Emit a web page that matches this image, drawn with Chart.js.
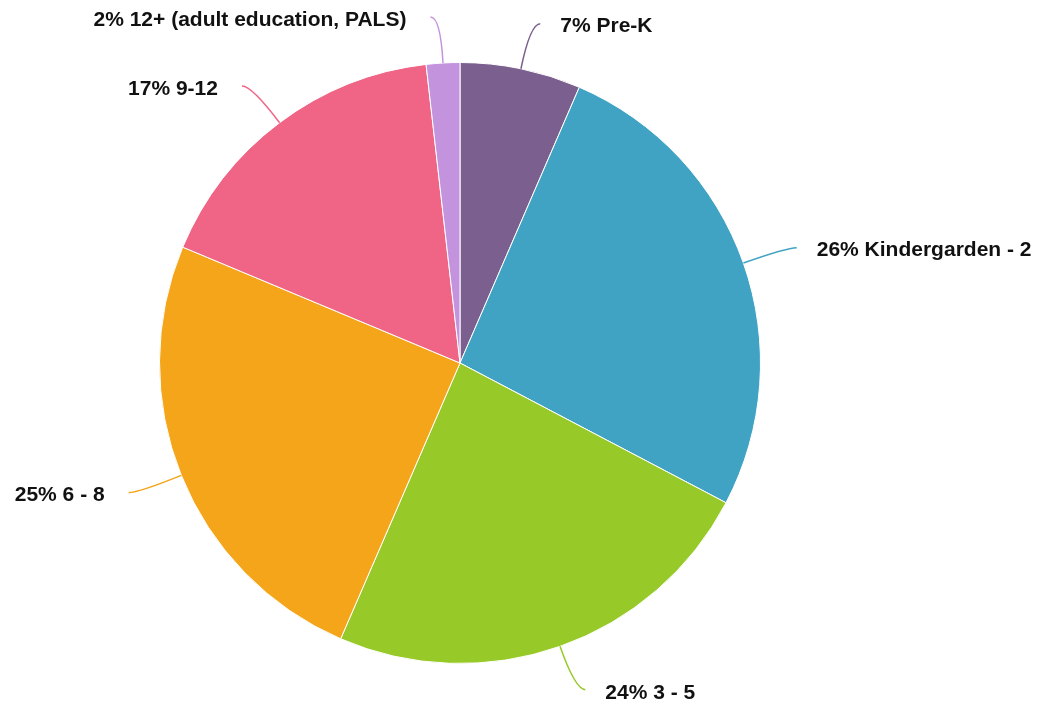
<!DOCTYPE html>
<html lang="en">
<head>
    <meta charset="UTF-8">
    <title>Grade levels</title>
    <script src="https://cdn.jsdelivr.net/npm/chart.js"></script>
    <style>
        body {
            margin: 0;
            background: white;
        }
        .wrap {
            width: 1041px;
            height: 714px;
            position: relative;
        }
    </style>
</head>
<body>
    <div class="wrap"><canvas id="pieChart"></canvas></div>

    <script>
        // data (percent of total)
        let categories = ['Pre-K', 'Kindergarden - 2', '3 - 5', '6 - 8', '9-12', '12+ (adult education, PALS)'];
        let shares = [6.5, 26.2, 23.8, 24.8, 16.9, 1.8];
        let sliceColors = ['#7b5f8e', '#40a3c3', '#97ca28', '#f5a51a', '#f06585', '#c394dd'];

        // outside labels with curved leader lines
        let leaderLabels = {
            id: 'leaderLabels',
            afterDraw(chart) {
                let ctx = chart.ctx;
                let meta = chart.getDatasetMeta(0);
                let total = shares.reduce((a, b) => a + b, 0);
                ctx.save();
                ctx.font = 'bold 21px "Liberation Sans", Arial, sans-serif';
                meta.data.forEach((arc, i) => {
                    let mid = (arc.startAngle + arc.endAngle) / 2;
                    let cos = Math.cos(mid), sin = Math.sin(mid);
                    let r = arc.outerRadius;
                    let side = cos >= 0 ? 1 : -1;
                    let x0 = arc.x + cos * r, y0 = arc.y + sin * r;
                    let x1 = arc.x + cos * (r + 46), y1 = arc.y + sin * (r + 46);
                    let x2 = x1 + side * 10, y2 = y1;

                    ctx.strokeStyle = sliceColors[i];
                    ctx.lineWidth = 1.5;
                    ctx.beginPath();
                    ctx.moveTo(x0, y0);
                    ctx.quadraticCurveTo(x1, y1, x2, y2);
                    ctx.stroke();

                    let text = Math.round(shares[i] / total * 100) + '% ' + categories[i];
                    ctx.fillStyle = '#111';
                    ctx.textBaseline = 'middle';
                    ctx.textAlign = side > 0 ? 'left' : 'right';
                    let gap = side > 0 ? 20 : 24;
                    ctx.fillText(text, x2 + side * gap, y2 + 3);
                });
                ctx.restore();
            }
        };

        let ctx = document.getElementById('pieChart').getContext('2d');
        let pieChart = new Chart(ctx, {
            type: 'pie',
            data: {
                labels: categories,
                datasets: [{
                    data: shares,
                    backgroundColor: sliceColors,
                    borderColor: '#ffffff',
                    borderWidth: 1
                }]
            },
            options: {
                responsive: true,
                maintainAspectRatio: false,
                animation: false,
                layout: { padding: { left: 159, right: 280, top: 62, bottom: 50 } },
                plugins: {
                    legend: { display: false },
                    tooltip: { enabled: false }
                }
            },
            plugins: [leaderLabels]
        });
    </script>
</body>
</html>
